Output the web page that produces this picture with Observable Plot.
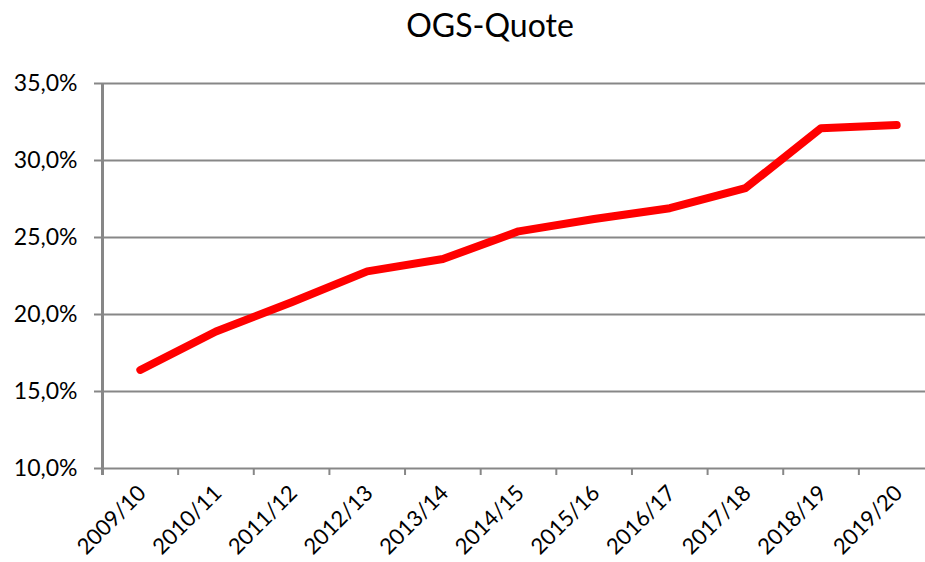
<!DOCTYPE html>
<html><head><meta charset="utf-8">
<script src="https://cdn.jsdelivr.net/npm/d3@7"></script>
<script src="https://cdn.jsdelivr.net/npm/@observablehq/plot@0.6"></script>
<style>
body{margin:0;background:#fff;}
#title{width:925px;height:50px;box-sizing:border-box;padding-left:55px;text-align:center;font-family:Lato,sans-serif;font-size:32px;line-height:50px;color:#000;}
</style></head><body>
<div id="title">OGS-Quote</div>
<div id="chart"></div>
<script>
const years = ["2009/10","2010/11","2011/12","2012/13","2013/14","2014/15","2015/16","2016/17","2017/18","2018/19","2019/20"];
const quote = [16.4, 18.9, 20.8, 22.8, 23.6, 25.4, 26.2, 26.9, 28.2, 32.1, 32.3];
const yTicks = [10, 15, 20, 25, 30, 35];

const data = years.map((y, i) => ({year: y, value: quote[i]}));
const W = 925, H = 512, ML = 102, xEnd = 934;
const bw = (xEnd - ML) / years.length;
const grey = "#878787";
const fmt = d => d.toFixed(1).replace(".", ",") + "%";

const chart = Plot.plot({
  width: W, height: H,
  marginTop: 33, marginBottom: 94, marginLeft: ML, marginRight: 0,
  style: {fontFamily: "Lato, sans-serif", background: "#fff", color: "#000"},
  x: {type: "band", domain: years, range: [ML, xEnd], padding: 0, round: false, label: null},
  y: {domain: [10, 35], label: null},
  marks: [
    Plot.ruleY(yTicks, {y: d => d, stroke: grey, strokeWidth: 2, insetLeft: -8}),
    Plot.ruleX(years, {x: d => d, dx: -bw / 2, y1: 10, y2: 10, insetBottom: -7, stroke: grey, strokeWidth: 2}),
    Plot.ruleX(years.slice(0, 1), {x: d => d, dx: -bw / 2, y1: 35, y2: 10, insetBottom: -7, stroke: grey, strokeWidth: 3}),
    Plot.axisY(yTicks, {tickSize: 0, tickPadding: 25, tickFormat: fmt, fontSize: 23, color: "#000", label: null}),
    Plot.axisX({tickSize: 0, tickRotate: -45, tickPadding: 21, dx: 2, fontSize: 22, color: "#000", label: null}),
    Plot.line(data, {x: "year", y: "value", stroke: "#ff0000", strokeWidth: 8, strokeLinecap: "round", strokeLinejoin: "round"})
  ]
});
document.getElementById("chart").appendChild(chart);
</script>
</body></html>
